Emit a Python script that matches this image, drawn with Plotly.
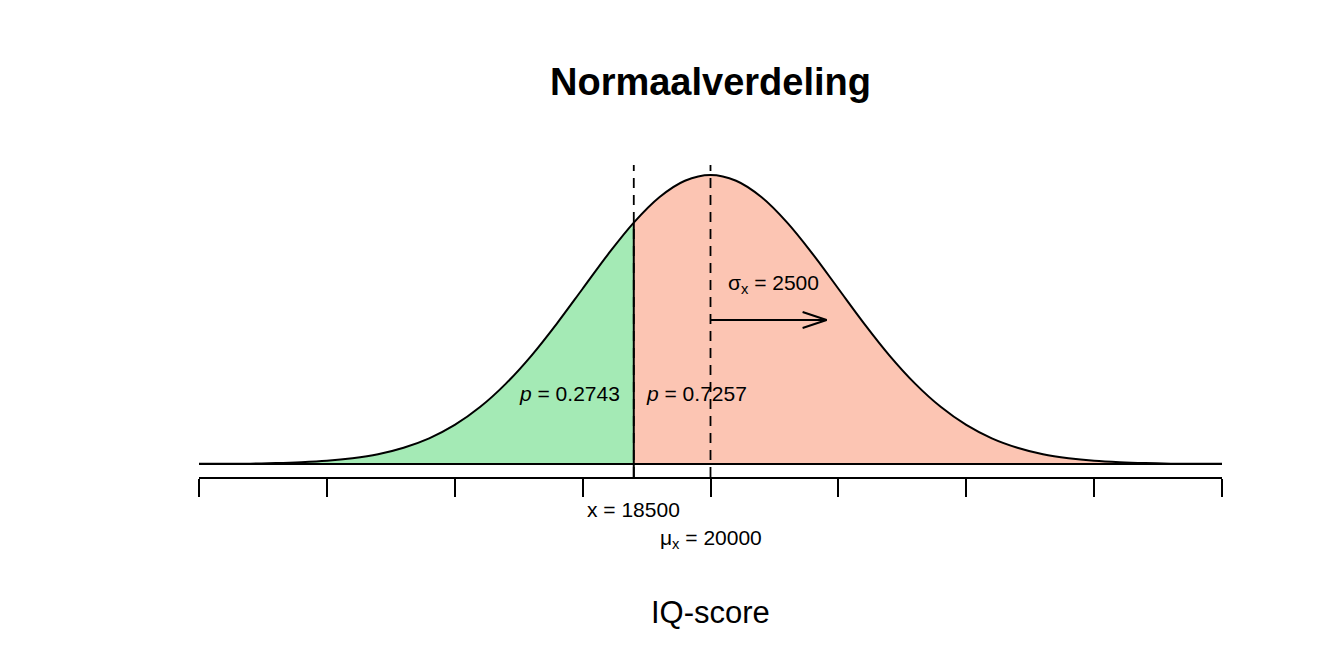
import plotly.graph_objects as go

# ---- data ----
mu = 20000
sigma = 2500
x_obs = 18500
p_left = "0.2743"
p_right = "0.7257"
x_grid = [10000, 10500, 11000, 11500, 12000, 12500, 13000, 13500, 14000, 14500,
          15000, 15500, 16000, 16500, 17000, 17500, 18000, 18500, 19000, 19500,
          20000, 20500, 21000, 21500, 22000, 22500, 23000, 23500, 24000, 24500,
          25000, 25500, 26000, 26500, 27000, 27500, 28000, 28500, 29000, 29500, 30000]
# density (x 1e-5)
dens = [0.01, 0.01, 0.02, 0.05, 0.10, 0.18, 0.32, 0.54, 0.90, 1.42,
        2.16, 3.16, 4.44, 5.99, 7.77, 9.68, 11.59, 13.33, 14.73, 15.64,
        15.96, 15.64, 14.73, 13.33, 11.59, 9.68, 7.77, 5.99, 4.44, 3.16,
        2.16, 1.42, 0.90, 0.54, 0.32, 0.18, 0.10, 0.05, 0.02, 0.01, 0.01]
tick_vals = [10000, 12500, 15000, 17500, 20000, 22500, 25000, 27500, 30000]
arrow_end = 22270

# ---- layout constants ----
FONT = "Liberation Sans, Arial, Helvetica, sans-serif"
W, H = 1344, 672
L, R, T, B = 199, 122, 100, 195
K = 0.055225            # y data units per pixel
XK = 20000 / (W - L - R)  # x data units per pixel
y_min, y_max = -13 * K, 364 * K
y_dash_top = 299 * K
y_arrow = 144 * K
y_sigma_lbl = 180 * K
y_p_lbl = 71 * K
LBL = 21

i_split = x_grid.index(x_obs)
green = "rgb(164,234,181)"
salmon = "rgb(252,197,179)"

fig = go.Figure()
fig.add_trace(go.Scatter(x=x_grid[:i_split + 1], y=dens[:i_split + 1], mode="lines",
                         line=dict(width=0, shape="spline"), fill="tozeroy",
                         fillcolor=green, hoverinfo="skip"))
fig.add_trace(go.Scatter(x=x_grid[i_split:], y=dens[i_split:], mode="lines",
                         line=dict(width=0, shape="spline"), fill="tozeroy",
                         fillcolor=salmon, hoverinfo="skip"))
# baseline
fig.add_trace(go.Scatter(x=[x_grid[0], x_grid[-1]], y=[0, 0], mode="lines",
                         line=dict(color="black", width=2)))
# curve
fig.add_trace(go.Scatter(x=x_grid, y=dens, mode="lines",
                         line=dict(color="black", width=2, shape="spline")))
# dashed verticals
for xv in (x_obs, mu):
    fig.add_trace(go.Scatter(x=[xv, xv], y=[y_min, y_dash_top], mode="lines",
                             line=dict(color="black", width=1.8, dash="10px,7px")))
# solid split line
fig.add_trace(go.Scatter(x=[x_obs, x_obs], y=[y_min, dens[i_split]], mode="lines",
                         line=dict(color="black", width=2)))
# sigma arrow
fig.add_trace(go.Scatter(x=[mu, arrow_end], y=[y_arrow, y_arrow], mode="lines",
                         line=dict(color="black", width=2)))
hx, hy = 24 * XK, 8 * K
fig.add_trace(go.Scatter(x=[arrow_end - hx, arrow_end, arrow_end - hx],
                         y=[y_arrow + hy, y_arrow, y_arrow - hy], mode="lines",
                         line=dict(color="black", width=2)))

ann = []
ann.append(dict(x=x_obs - 12 * XK, y=y_p_lbl, xref="x", yref="y", text="<i>p</i> = " + p_left,
                xanchor="right", yanchor="middle", showarrow=False,
                font=dict(size=LBL, color="black", family=FONT)))
ann.append(dict(x=x_obs + 10 * XK, y=y_p_lbl, xref="x", yref="y", text="<i>p</i> = " + p_right,
                xanchor="left", yanchor="middle", showarrow=False,
                font=dict(size=LBL, color="black", family=FONT)))
ann.append(dict(x=mu + 63 * XK, y=y_sigma_lbl, xref="x", yref="y",
                text="σ<sub>x</sub> = %d" % sigma,
                xanchor="center", yanchor="middle", showarrow=False,
                font=dict(size=LBL, color="black", family=FONT)))
ann.append(dict(x=x_obs, y=(477 - 509) / (H - T - B), xref="x", yref="paper",
                text="x = %d" % x_obs, xanchor="center", yanchor="middle", showarrow=False,
                font=dict(size=LBL, color="black", family=FONT)))
ann.append(dict(x=mu, y=(477 - 539) / (H - T - B), xref="x", yref="paper",
                text="μ<sub>x</sub> = %d" % mu, xanchor="center", yanchor="middle",
                showarrow=False, font=dict(size=LBL, color="black", family=FONT)))
ann.append(dict(x=0.5, y=(477 - 612) / (H - T - B), xref="paper", yref="paper",
                text="IQ-score", xanchor="center", yanchor="middle", showarrow=False,
                font=dict(size=31, color="black", family=FONT)))

fig.update_layout(
    width=W, height=H,
    margin=dict(l=L, r=R, t=T, b=B, pad=0),
    paper_bgcolor="white", plot_bgcolor="white",
    showlegend=False,
    title=dict(text="<b>Normaalverdeling</b>", x=0.5, xref="paper", xanchor="center",
               y=1 - 82 / H, yref="container", yanchor="middle",
               font=dict(size=38, color="black", family=FONT)),
    annotations=ann,
    xaxis=dict(range=[x_grid[0], x_grid[-1]], tickvals=tick_vals, showticklabels=False,
               ticks="outside", ticklen=18, tickwidth=2, tickcolor="black",
               showline=True, linecolor="black", linewidth=2, showgrid=False,
               zeroline=False, fixedrange=True),
    yaxis=dict(range=[y_min, y_max], visible=False, showgrid=False, zeroline=False),
)

fig.write_html("out.html", config={"displayModeBar": False})
